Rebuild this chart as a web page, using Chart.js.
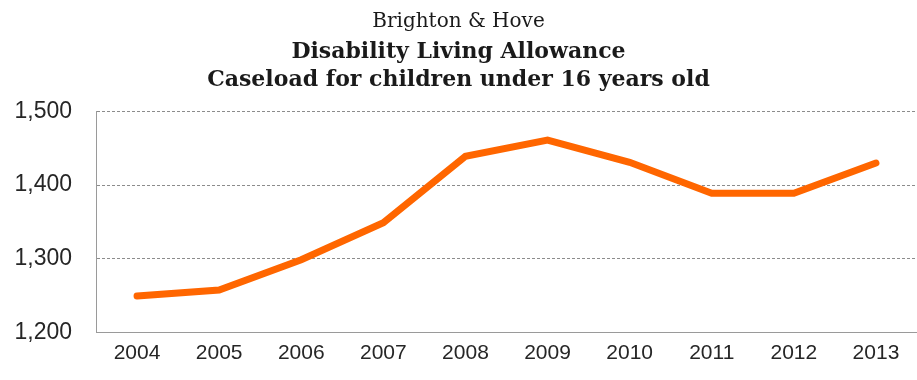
<!DOCTYPE html>
<html>
<head>
<meta charset="utf-8">
<script src="https://cdn.jsdelivr.net/npm/chart.js@4.4.1/dist/chart.umd.min.js"></script>
<style>
  html, body { margin: 0; padding: 0; background: #fff; }
  #wrap { width: 917px; height: 380px; }
</style>
</head>
<body>
<div id="wrap"><canvas id="dla"></canvas></div>
<script>
const years = ['2004', '2005', '2006', '2007', '2008', '2009', '2010', '2011', '2012', '2013'];
const caseload = [1250, 1258, 1299, 1349, 1439, 1461, 1431, 1389, 1389, 1430];
const titleLine = 'Brighton & Hove';
const subtitleLines = ['Disability Living Allowance', 'Caseload for children under 16 years old'];

const serif = '"DejaVu Serif", "Liberation Serif", serif';
const sans = '"Liberation Sans", Arial, sans-serif';

new Chart(document.getElementById('dla'), {
    type: 'line',
    data: {
        labels: years,
        datasets: [{
            label: 'Caseload',
            data: caseload,
            borderColor: '#ff6600',
            borderWidth: 7,
            borderCapStyle: 'round',
            borderJoinStyle: 'miter',
            pointRadius: 0,
            tension: 0,
            fill: false
        }]
    },
    options: {
        responsive: true,
        maintainAspectRatio: false,
        animation: false,
        layout: { padding: { top: 5, right: 0, bottom: 6, left: 0 } },
        plugins: {
            legend: { display: false },
            tooltip: { enabled: false },
            title: {
                display: true,
                text: titleLine,
                color: '#1a1a1a',
                font: { family: serif, size: 20, weight: 'normal', lineHeight: 1.25 },
                padding: { top: 4, bottom: 4 }
            },
            subtitle: {
                display: true,
                text: subtitleLines,
                color: '#1a1a1a',
                font: { family: serif, size: 22, weight: 'bold', lineHeight: 1.28 },
                padding: { top: 0, bottom: 17 }
            }
        },
        scales: {
            x: {
                offset: true,
                grid: { display: false, drawTicks: false },
                border: { display: true, color: '#9a9a9a', width: 1 },
                ticks: { color: '#262626', font: { family: sans, size: 21 }, padding: 8 }
            },
            y: {
                min: 1200,
                max: 1500,
                ticks: {
                    stepSize: 100,
                    color: '#262626',
                    font: { family: sans, size: 23 },
                    padding: 24,
                    callback: v => v.toLocaleString('en-US')
                },
                grid: {
                    drawTicks: false,
                    color: ctx => ctx.tick && ctx.tick.value === 1200 ? 'rgba(0,0,0,0)' : '#8c8c8c',
                    lineWidth: 1
                },
                border: { display: true, color: '#9a9a9a', width: 1, dash: [3, 2] },
                afterFit: scale => { scale.width = 96; }
            }
        }
    }
});
</script>
</body>
</html>
